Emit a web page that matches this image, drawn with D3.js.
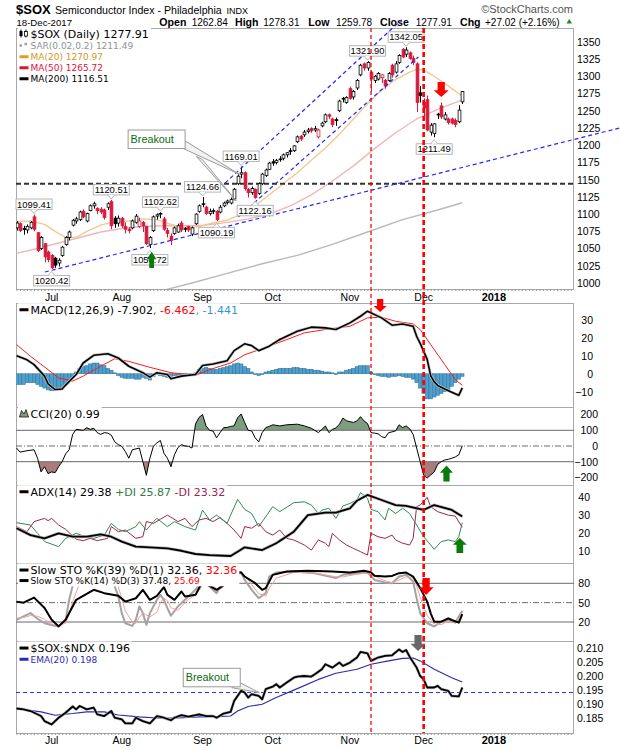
<!DOCTYPE html>
<html>
<head>
<meta charset="utf-8">
<script src="https://cdn.jsdelivr.net/npm/d3@7"></script>
<style>
  body { margin: 0; background: #fff; }
  text { font-family: "Liberation Sans", Arial, sans-serif; }
  .lg { font-family: "DejaVu Sans", Verdana, sans-serif; }
</style>
</head>
<body>
<svg id="chart" width="620" height="750"></svg>
<script>
// ---- data (index = trading day from 19-Jun-2017) ----
const opens  = [1080,1086,1079,1077,1080,1096,1073,1050,1057,1045,1040,1036,1029,1040,1056,1066,1084,1090,1092,1104,1090,1105,1112,1108,1107,1106,1110,1118,1094,1087,1094,1082,1078,1080,1088,1082,1088,1082,1056,1076,1097,1100,1093,1076,1068,1072,1074,1087,1078,1082,1071,1086,1104,1115,1110,1101,1104,1104,1103,1112,1117,1116,1122,1144,1158,1160,1136,1131,1136,1130,1144,1156,1165,1176,1175,1179,1181,1186,1192,1192,1205,1213,1215,1220,1224,1222,1212,1228,1234,1244,1238,1237,1250,1268,1262,1282,1270,1283,1302,1318,1312,1306,1294,1296,1298,1294,1294,1316,1306,1320,1339,1332,1334,1326,1318,1276,1262,1266,1219,1217,1244,1257,1238,1238,1238,1236,1234,1262.84];
const highs  = [1090,1088,1083,1085,1090,1099.41,1074,1068,1058,1047,1042,1038,1036,1054,1068,1076,1093,1096,1105,1107,1102,1114,1118,1110,1110,1108,1117,1120.51,1097,1098,1096,1088,1081,1092,1100,1095,1090,1083,1068,1098,1101,1102.62,1096,1080,1072,1082,1086,1090,1081,1083,1082,1101,1114,1124.66,1112,1108,1108,1106,1113,1118,1121,1124,1138,1158,1169.01,1162,1138,1140,1137,1146,1160,1166,1176,1180,1180,1184,1188,1190,1196,1200,1214,1215,1222,1225,1226,1228,1224,1234,1246,1246,1240,1240,1266,1270,1271,1285,1280,1296,1318,1320,1321.90,1308,1302,1306,1303,1296,1306,1318,1322,1332,1341,1342.05,1336,1330,1320,1286,1268,1272,1232,1232,1247,1262,1248,1240,1240,1239,1258,1278.31];
const lows   = [1076,1074,1070,1072,1078,1075,1045,1048,1030,1030,1020.42,1022,1024,1038,1054,1062,1082,1086,1090,1094,1088,1104,1108,1100,1100,1092,1106,1078,1080,1082,1080,1072,1072,1078,1086,1080,1074,1055,1050.72,1074,1092,1094,1076,1066,1055,1070,1073,1074,1074,1074,1068,1084,1102,1110,1099,1098,1100,1090.19,1101,1110,1114,1114,1120,1142,1152,1134,1124,1128,1122.16,1128,1142,1154,1164,1170,1172,1176,1178,1182,1186,1190,1203,1206,1212,1217,1218,1219,1210,1226,1232,1238,1226,1228,1248,1262,1260,1266,1266,1280,1300,1308,1308,1278,1290,1294,1290,1282,1292,1298,1304,1318,1326,1328,1324,1316,1248,1262,1240,1220,1214,1211.49,1238,1238,1236,1230,1230,1226,1232,1259.78];
const closes = [1087,1076,1078,1082,1088,1078,1047,1066,1038,1034,1022,1026,1033,1052,1066,1074,1091,1093,1103,1096,1101,1112,1115,1105,1103,1095,1115,1083,1086,1094,1083,1078,1076,1090,1097,1090,1083,1057,1066,1096,1099,1101,1078,1072,1062,1080,1083,1077,1079,1077,1080,1100,1112,1114,1101,1104,1105,1092,1110,1116,1119,1121,1136,1155,1160,1137,1131,1137,1124,1144,1158,1164,1174,1174,1178,1180,1186,1189,1191,1199,1212,1209,1219,1222,1221,1224,1222,1232,1244,1242,1230,1236,1264,1267,1269,1268,1278,1294,1316,1312,1320,1296,1300,1304,1302,1286,1304,1302,1318,1330,1328,1338,1326,1320,1262,1272,1254,1222,1229,1231,1245,1241,1244,1233,1232,1230,1250.89,1277.91];

const ma20  = [[0,1089],[4,1090],[8,1085],[11,1075],[14,1066],[17,1066],[20,1075],[24,1084],[28,1089],[32,1090],[36,1093],[40,1092],[44,1085],[48,1080],[52,1082],[56,1087],[60,1091],[64,1100],[68,1112],[72,1128],[76,1144],[80,1160],[84,1178],[88,1196],[92,1216],[96,1238],[100,1260],[104,1280],[108,1295],[112,1306],[114,1310],[116,1309],[119,1300],[123,1286],[127,1270.97]];
const ma50  = [[0,1043],[6,1050],[12,1058],[18,1066],[24,1074],[30,1079],[36,1082],[42,1083],[48,1083],[54,1084],[60,1088],[66,1093],[72,1100],[78,1112],[84,1128],[90,1148],[96,1170],[102,1195],[108,1218],[114,1238],[120,1252],[127,1265.72]];
const ma200 = [[40,987],[50,1000],[60,1014],[70,1028],[80,1040],[90,1056],[100,1074],[110,1092],[120,1106],[127,1116.51]];
const trendLines = [[[8.1,1016],[171.9,1225]], [[59.4,1145],[109.7,1382]], [[63.2,1096],[114.5,1328]]];
const supportLevel = 1144;
const priceNotes = [[5,1099.41,"high"],[27,1120.51,"high"],[41,1102.62,"high"],[53,1124.66,"high"],[64,1169.01,"high"],[100,1321.90,"high"],[111,1342.05,"high"],[10,1020.42,"low"],[38,1050.72,"low"],[57,1090.19,"low"],[68,1122.16,"low"],[119,1211.49,"low"]];

const macdLine = [[0,10.1],[3,7.8],[5,5.1],[8,-1.3],[9,-5.6],[11,-8.8],[13,-8.5],[14,-6.3],[17,-0.4],[19,6],[22,10.3],[26,11.2],[29,8.8],[32,4.2],[36,0.6],[38,-1.9],[40,0.6],[43,-0.4],[44,-2.8],[47,-1.3],[51,-0.4],[53,4.6],[56,5.5],[60,7.3],[62,12.9],[65,16.7],[67,15.7],[69,12.9],[72,15.4],[75,19.1],[80,23.7],[84,26],[88,25.6],[91,24.7],[95,28.4],[98,32.1],[100,34.9],[104,31.2],[107,27.1],[110,27.8],[113,26.5],[114,20.9],[115,17],[116,12.5],[117,8],[118,-1],[119,-4.5],[120,-6.5],[122,-8.5],[124,-10.3],[126,-12],[127,-7.902]];
const macdSignal = [[0,16.3],[4,9.7],[9,2.3],[12,-2.3],[16,-4.1],[19,-1.3],[24,4.2],[28,8.4],[32,6.9],[38,3.6],[44,0.6],[51,-0.9],[55,2.3],[61,6],[65,10.6],[71,14.7],[77,19.1],[82,22.8],[88,24.7],[95,26.5],[100,31.2],[104,31.5],[108,29.3],[113,27.8],[115,24.7],[118,16.3],[122,5.1],[125,-3.2],[127,-6.462]];
const macdHist = [-6,-6,-6,-5,-5,-5,-6,-7,-8,-9,-9.5,-9.5,-9,-8,-6,-4,-2,1,3,4,4.5,5.5,6,6,5,4.5,3,2,0.5,-1,-2,-2.5,-2.5,-2.5,-3,-3,-2,-2.5,-3.5,-1.5,-0.5,-1,-1.5,-2,-1.5,-1,-1,-0.5,-1,-1,-0.5,0.5,2.5,3,3.5,3,2.5,2.5,3,3.5,4,4.5,5.5,6,5.5,4,3,1,-0.5,-1,-0.5,1,1.5,2,2.5,3,3,3,3,3.5,3.5,3,3,2.5,2.5,2,2,1.5,1,1,0.5,-0.5,1,1,2,2.5,3,4,4.5,4.5,4.5,1,-0.5,-1,-1.5,-1.5,-2,-1.5,-1.5,-1,-1.5,-2,-2,-3,-5,-8,-11,-14,-14,-13,-12,-11,-10,-9,-7,-5,-3,-1.441];

const cci = [[0,-13],[1,-39],[3,-30],[5,-24],[6,-78],[7,-165],[8,-132],[9,-176],[10,-165],[11,-170],[12,-132],[13,-100],[14,-50],[15,-24],[16,74],[17,106],[19,100],[20,117],[21,106],[22,113],[23,85],[24,74],[25,85],[26,82],[27,69],[28,26],[29,9],[30,-2],[31,-35],[32,-78],[33,-24],[35,-13],[36,-100],[37,-187],[38,-78],[39,-2],[40,20],[41,35],[42,-46],[43,-78],[44,-132],[45,-56],[46,-10],[47,9],[48,0],[49,-2],[50,-13],[51,140],[52,182],[53,200],[54,128],[55,100],[56,95],[57,52],[58,85],[59,117],[60,118],[61,125],[62,128],[63,180],[64,204],[65,150],[66,100],[67,96],[68,52],[69,26],[70,85],[71,117],[72,125],[73,135],[75,128],[77,135],[80,139],[82,128],[84,113],[86,85],[87,106],[88,128],[89,85],[90,106],[91,115],[92,139],[93,178],[94,161],[95,155],[96,150],[97,160],[98,187],[99,160],[100,143],[101,85],[102,82],[103,78],[104,60],[105,52],[106,85],[107,90],[108,96],[109,135],[110,117],[111,128],[112,110],[113,74],[114,-13],[115,-100],[116,-187],[117,-204],[118,-185],[119,-165],[120,-117],[121,-100],[122,-89],[123,-85],[124,-78],[125,-70],[126,-56],[127,0.99]];

const adx = [[0,22.8],[4,19],[8,17.2],[12,20],[16,18.1],[20,18.1],[24,19.4],[27,18.1],[30,15.4],[34,12.6],[38,12.2],[43,11.6],[47,10.3],[51,8.5],[55,7.9],[61,7.4],[63,9.8],[65,12.2],[70,10.7],[74,14.5],[79,20.9],[83,30.1],[88,31.5],[91,31.5],[95,33.9],[97,38.1],[100,41.3],[104,38.5],[108,35.7],[111,35.2],[116,33],[119,35.7],[124,33],[127,29.38]];
const plusDI = [[0,25.9],[4,24.6],[6,20],[8,15.4],[12,12.6],[14,17.2],[17,20],[19,18.5],[22,17.2],[25,19],[27,25.5],[29,22.2],[31,20.9],[34,23.7],[35,26.5],[37,21.8],[39,26.5],[40,28.3],[43,23.7],[45,26.5],[48,23.7],[51,21.8],[53,32.9],[55,27.4],[57,30.1],[60,25.5],[61,30.1],[63,38.8],[65,33.3],[67,31],[69,23.7],[71,29.2],[73,34.8],[75,32],[79,37],[82,37.5],[84,35.7],[86,31],[87,32.9],[89,33.9],[91,28.3],[93,35.2],[95,36.6],[97,38.5],[98,42.6],[100,39.4],[101,33.3],[103,32],[105,27.4],[106,33.9],[108,31],[110,33.9],[112,31],[114,24.6],[116,18.1],[118,13.5],[119,11.1],[121,15.4],[123,16.3],[125,15.4],[126,18.1],[127,25.87]];
const minusDI = [[0,23.7],[3,20.9],[5,26.5],[8,28.3],[9,27],[10,28.3],[12,24.6],[14,22.2],[17,16.7],[19,15.9],[21,17.2],[23,15.9],[26,17.2],[27,23.7],[29,20.9],[31,21.8],[34,17.2],[36,18.1],[37,26.5],[39,25.5],[41,27.8],[43,30.1],[46,26.5],[48,28.3],[50,23.7],[52,27.4],[54,28.3],[56,26.5],[58,28.8],[60,25.5],[62,21.8],[64,17.2],[65,23.7],[67,22.8],[69,25.5],[71,20.9],[73,19],[75,21.8],[77,17.2],[79,16.3],[82,13.5],[84,10.7],[86,16.3],[88,14.5],[89,12.6],[90,20],[92,16.3],[94,13.5],[96,11.6],[98,9.8],[100,7.9],[101,20],[103,18.1],[105,17.2],[107,19],[108,16.3],[110,14.5],[112,13.5],[113,17.2],[114,34.8],[115,35.7],[117,40],[118,34.8],[120,32],[123,30.1],[125,29.6],[127,23.32]];

const stoK39 = [[0,51.6],[2,50],[5,57.8],[8,41.8],[10,23.5],[12,13.2],[14,23.5],[17,54.4],[19,60.6],[22,69.9],[25,64.7],[29,60.6],[31,51.6],[34,56.8],[36,69.9],[38,54.4],[40,60.6],[42,74],[43,62.1],[45,54.4],[47,67.3],[48,59.5],[51,62.1],[53,82.7],[55,76],[57,69.9],[60,80.2],[61,90.5],[62,96],[64,97],[65,90.5],[68,80.2],[70,69.9],[71,72.5],[73,93.1],[77,98.3],[83,99.3],[90,98.3],[95,96.7],[99,99.3],[101,97],[102,91.6],[105,90.5],[107,91.5],[109,95.7],[111,96.7],[113,90.5],[115,72.5],[117,51.6],[118,33.5],[119,20.5],[121,20.5],[123,25.7],[124,23.1],[126,19],[127,32.36]];
const stoK14 = [[0,23.5],[2,28.6],[4,33.8],[6,25],[8,18.1],[10,15.5],[12,13],[14,23.5],[15,54.4],[16,76],[18,90],[21,95],[24,88],[27,92],[28,75],[29,59.5],[30,33.8],[31,18.1],[33,13.9],[34,23.5],[35,44.2],[36,33.8],[37,15.5],[38,33.8],[40,54.4],[41,62.1],[42,54.4],[43,41.5],[44,29.7],[46,44.2],[48,54.4],[49,59.5],[51,69.9],[53,85.3],[55,75],[57,64.7],[58,75],[60,90.5],[62,97],[64,96],[65,85.3],[67,69.9],[69,56.9],[71,64.7],[72,90.5],[74,96.7],[79,98.3],[85,95.7],[91,88],[93,93.1],[97,95.7],[100,96.7],[102,85.3],[105,81.2],[107,80.2],[109,90.5],[111,93.1],[113,82.7],[114,56.9],[115,33.8],[117,18.1],[119,13],[121,20.5],[123,23.1],[125,19],[127,37.48]];
const stoD3 = [[0,26],[2,27],[4,30],[6,29],[8,24],[10,17],[12,15],[14,18],[15,32],[16,51],[18,80],[21,92],[24,90],[27,88],[28,84],[29,75],[30,56],[31,37],[33,20],[34,18],[35,27],[36,34],[37,31],[38,28],[40,35],[41,50],[42,57],[43,53],[44,42],[46,38],[48,50],[49,55],[51,62],[53,76],[55,80],[57,72],[58,70],[60,82],[62,92],[64,95],[65,92],[67,78],[69,64],[71,60],[72,72],[74,88],[79,97],[85,96],[91,90],[93,90],[97,94],[100,96],[102,91],[105,84],[107,81],[109,85],[111,90],[113,88],[114,76],[115,58],[117,30],[119,17],[121,16],[123,21],[125,21],[127,25.69]];

const ratio = [[0,0.1885],[2,0.1882],[4,0.1876],[7,0.1858],[8,0.1840],[10,0.1828],[12,0.1852],[14,0.1870],[16,0.1892],[17,0.1882],[18,0.1894],[20,0.1882],[22,0.1888],[23,0.1864],[25,0.1858],[27,0.1876],[28,0.1852],[30,0.1846],[31,0.1832],[33,0.1832],[34,0.1852],[36,0.1840],[38,0.1832],[39,0.1845],[40,0.1858],[42,0.1852],[44,0.1843],[45,0.1852],[47,0.1861],[49,0.1856],[51,0.1861],[52,0.1864],[54,0.1858],[56,0.1858],[57,0.1852],[59,0.1867],[61,0.1873],[62,0.1912],[64,0.1948],[65,0.1942],[66,0.1924],[67,0.1936],[69,0.1930],[70,0.1918],[71,0.1954],[73,0.1963],[74,0.1972],[75,0.1960],[77,0.1978],[79,0.1995],[80,0.1999],[82,0.2001],[84,0.1999],[85,0.2007],[87,0.2025],[88,0.2043],[90,0.2031],[92,0.2049],[93,0.2037],[95,0.2049],[97,0.2067],[98,0.2087],[100,0.2082],[101,0.2055],[103,0.2067],[105,0.2073],[107,0.2075],[109,0.2096],[110,0.2087],[111,0.2094],[112,0.2070],[114,0.2031],[115,0.2001],[116,0.1989],[117,0.1960],[119,0.1960],[120,0.1966],[121,0.1954],[123,0.1948],[124,0.1930],[126,0.1928],[127,0.196]];
const ratioEma = [[0,0.1885],[7,0.1873],[11,0.1861],[16,0.1867],[20,0.1873],[25,0.1873],[29,0.1862],[35,0.1855],[40,0.1851],[46,0.1851],[52,0.1855],[57,0.1856],[61,0.1858],[63,0.1876],[66,0.1892],[70,0.1900],[74,0.1924],[80,0.1956],[86,0.1989],[91,0.2011],[97,0.2025],[101,0.2043],[106,0.2055],[110,0.2064],[113,0.2065],[115,0.2055],[119,0.2025],[124,0.1995],[127,0.198]];
const ratioLevel = 0.1942;

const monthTicks = [["Jul",10],["Aug",30],["Sep",53],["Oct",73],["Nov",95],["Dec",116],["2018",136]];
const markerDays = [101, 116];
const priceTicks = d3.range(1000, 1351, 25);
const macdTicks = [-10, 0, 10, 20, 30];
const cciTicks = [-200, -100, 0, 100, 200];
const adxTicks = [10, 20, 30, 40];
const stoTicks = [20, 50, 80];
const ratioTicks = [0.185, 0.190, 0.195, 0.200, 0.205, 0.210];

// ---- layout ----
const svg = d3.select("#chart");
const LEFT = 16, RIGHT = 574;
const RED = "#d81b3c";
const x = d3.scaleLinear().domain([0, 159]).range([16.5, 574.6]);

const panels = {
  price: { top: 28,  bottom: 289, y: d3.scaleLinear().domain([1000, 1350]).range([283, 41.8]) },
  macd:  { top: 303, bottom: 407, y: d3.scaleLinear().domain([-10, 30]).range([391.7, 320]) },
  cci:   { top: 407, bottom: 485, y: d3.scaleLinear().domain([-100, 100]).range([461.7, 430.3]) },
  adx:   { top: 485, bottom: 563, y: d3.scaleLinear().domain([10, 40]).range([551.3, 497.3]) },
  sto:   { top: 563, bottom: 641, y: d3.scaleLinear().domain([20, 80]).range([622, 583.3]) },
  ratio: { top: 641, bottom: 733, y: d3.scaleLinear().domain([0.185, 0.210]).range([718.3, 648.3]) }
};

const defs = svg.append("defs");
Object.entries(panels).forEach(([k, p]) => {
  defs.append("clipPath").attr("id", "clip-" + k)
    .append("rect").attr("x", LEFT).attr("y", p.top)
    .attr("width", RIGHT - LEFT).attr("height", p.bottom - p.top);
  p.g = svg.append("g").attr("clip-path", `url(#clip-${k})`);
});

const lineFor = (p) => d3.line().x(d => x(d[0])).y(d => p.y(d[1]));

function drawLine(p, data, color, width, extra) {
  const path = p.g.append("path").datum(data)
    .attr("d", lineFor(p)).attr("fill", "none")
    .attr("stroke", color).attr("stroke-width", width)
    .attr("stroke-linejoin", "round");
  if (extra) extra(path);
  return path;
}

function hLine(p, v, dash) {
  p.g.append("line").attr("x1", LEFT).attr("x2", RIGHT)
    .attr("y1", p.y(v)).attr("y2", p.y(v))
    .attr("stroke", "#6b6b6b").attr("stroke-width", 1)
    .attr("stroke-dasharray", dash || null);
}

// ---- header ----
const head = svg.append("text").attr("y", 13.5);
head.append("tspan").attr("x", 16).style("font-weight", "bold").style("font-size", "13px").text("$SOX");
head.append("tspan").attr("x", 55).style("font-size", "10.6px").text("Semiconductor Index - Philadelphia");
head.append("tspan").attr("x", 226.5).style("font-size", "9px").text("INDX");
svg.append("text").attr("x", 573).attr("y", 12.5).attr("text-anchor", "end")
  .style("font-size", "11px").attr("fill", "#555").text("\u00A9StockCharts.com");
svg.append("text").attr("x", 16.5).attr("y", 25.7).style("font-size", "9.6px").text("18-Dec-2017");

const quote = [["Open", 159.3, "1262.84", 191.7], ["High", 235, "1278.31", 263.3], ["Low", 308.3, "1259.78", 336],
               ["Close", 380, "1277.91", 415.7], ["Chg", 460, "+27.02 (+2.16%)", 485]];
const qt = svg.append("text").attr("y", 25.7);
quote.forEach(q => {
  qt.append("tspan").attr("x", q[1]).style("font-weight", "bold").style("font-size", "10.6px").text(q[0]);
  qt.append("tspan").attr("x", q[3]).style("font-size", "10px").text(q[2]);
});
svg.append("path").attr("d", "M566.5,23.5 L572,23.5 L569.25,19 Z").attr("fill", "#1f8a1f");

// ---- frames ----
Object.values(panels).forEach(p => {
  svg.insert("rect", ":first-child").attr("x", LEFT + 0.5).attr("y", p.top + 0.5)
    .attr("width", RIGHT - LEFT - 1).attr("height", p.bottom - p.top)
    .attr("fill", "#fff").attr("stroke", "#a9a9a9");
});

// ---- price panel ----
const P = panels.price;
drawLine(P, ma200, "#b9b9b9", 1.4);
drawLine(P, ma50, "#f2b6b6", 1.4);
drawLine(P, ma20, "#f0c98f", 1.4);

P.g.append("line").attr("x1", LEFT).attr("x2", RIGHT)
  .attr("y1", P.y(supportLevel)).attr("y2", P.y(supportLevel))
  .attr("stroke", "#333").attr("stroke-width", 2).attr("stroke-dasharray", "5,3");

const candles = P.g.append("g");
closes.forEach((c, i) => {
  const o = opens[i], prev = i ? closes[i - 1] : o;
  const col = c >= prev ? "#000" : RED;
  const cx = Math.round(x(i)) + 0.5;
  candles.append("line").attr("x1", cx).attr("x2", cx)
    .attr("y1", P.y(highs[i])).attr("y2", P.y(lows[i])).attr("stroke", col).attr("stroke-width", 1);
  const top = P.y(Math.max(o, c)), bot = P.y(Math.min(o, c));
  candles.append("rect").attr("x", cx - 1.4).attr("y", top)
    .attr("width", 2.8).attr("height", Math.max(bot - top, 0.8))
    .attr("fill", c > o ? "#fff" : col).attr("stroke", col).attr("stroke-width", 0.8);
});

// trend lines (allowed to run past the frame like the original)
trendLines.forEach(t => {
  svg.append("line").attr("x1", x(t[0][0])).attr("y1", P.y(t[0][1]))
    .attr("x2", x(t[1][0])).attr("y2", P.y(t[1][1]))
    .attr("stroke", "#2525ff").attr("stroke-width", 1.2).attr("stroke-dasharray", "4,3");
});

// high / low value tags
priceNotes.forEach(([i, v, side]) => {
  const cx = x(i), w = 36, h = 10.5;
  const y0 = side === "high" ? P.y(v) - 5 - h : P.y(v) + 6.5;
  const g = svg.append("g");
  g.append("rect").attr("x", cx - w / 2).attr("y", y0).attr("width", w).attr("height", h)
    .attr("fill", "#fff").attr("stroke", "#b5b5b5");
  const edge = side === "high" ? y0 + h : y0;
  const tip = side === "high" ? edge + 4 : edge - 4;
  g.append("path").attr("d", `M${cx - 3.5},${edge} L${cx},${tip} L${cx + 3.5},${edge}`)
    .attr("fill", "#fff").attr("stroke", "#b5b5b5");
  g.append("text").attr("x", cx).attr("y", y0 + 8.6).attr("text-anchor", "middle")
    .style("font-size", "9.4px").text(v.toFixed(2));
});

// ---- MACD ----
const M = panels.macd;
M.g.selectAll(".bar").data(macdHist).join("rect")
  .attr("x", (d, i) => x(i) - 1.75).attr("width", 3.5)
  .attr("y", d => Math.min(M.y(d), M.y(0))).attr("height", d => Math.abs(M.y(d) - M.y(0)))
  .attr("fill", "#4f9fcc").attr("stroke", "#2a6e98").attr("stroke-width", 0.5);
drawLine(M, macdSignal, "#ff1a1a", 1);
drawLine(M, macdLine, "#c8c8c8", 3);
drawLine(M, macdLine, "#000", 1.6);

// ---- CCI ----
const C = panels.cci;
defs.append("clipPath").attr("id", "cci-up").append("rect")
  .attr("x", LEFT).attr("y", C.top).attr("width", RIGHT - LEFT).attr("height", C.y(100) - C.top);
defs.append("clipPath").attr("id", "cci-dn").append("rect")
  .attr("x", LEFT).attr("y", C.y(-100)).attr("width", RIGHT - LEFT).attr("height", C.bottom - C.y(-100));
C.g.append("path").datum(cci).attr("clip-path", "url(#cci-up)")
  .attr("d", d3.area().x(d => x(d[0])).y0(C.y(100)).y1(d => C.y(d[1])))
  .attr("fill", "#7e9c7e");
C.g.append("path").datum(cci).attr("clip-path", "url(#cci-dn)")
  .attr("d", d3.area().x(d => x(d[0])).y0(C.y(-100)).y1(d => C.y(d[1])))
  .attr("fill", "#a97b7b");
hLine(C, 100); hLine(C, -100); hLine(C, 0, "6,2,1,2");
drawLine(C, cci, "#000", 1);

// ---- ADX ----
const A = panels.adx;
drawLine(A, minusDI, "#a3234f", 1);
drawLine(A, plusDI, "#2f8a57", 1);
drawLine(A, adx, "#bdbdbd", 3.2);
drawLine(A, adx, "#000", 1.8);

// ---- Stochastics ----
const S = panels.sto;
hLine(S, 80); hLine(S, 20); hLine(S, 50, "6,2,1,2");
drawLine(S, stoK14, "#a3a3a3", 2);
drawLine(S, stoD3, "#f2a0a0", 1);
drawLine(S, stoK39, "#ff3333", 1);
drawLine(S, stoK39, "#000", 2);

// ---- ratio ----
const R = panels.ratio;
R.g.append("line").attr("x1", LEFT).attr("x2", RIGHT)
  .attr("y1", R.y(ratioLevel)).attr("y2", R.y(ratioLevel))
  .attr("stroke", "#2233ee").attr("stroke-width", 1).attr("stroke-dasharray", "4,3");
drawLine(R, ratioEma, "#2a2ab0", 1.1);
drawLine(R, ratio, "#bdbdbd", 3);
drawLine(R, ratio, "#000", 1.8);

// ---- right axes ----
function rightAxis(p, ticks, fmt, xPos, anchor) {
  const g = svg.append("g").attr("transform", `translate(${xPos},0)`)
    .call(d3.axisRight(p.y).tickValues(ticks).tickSize(0).tickPadding(0).tickFormat(fmt));
  g.select(".domain").remove();
  g.selectAll("text").attr("text-anchor", anchor).attr("x", 0)
    .style("font-family", '"Liberation Sans", Arial, sans-serif').style("font-size", "10.5px").attr("fill", "#000");
}
rightAxis(P, priceTicks, d3.format("d"), 577, "start");
rightAxis(M, macdTicks, d3.format("d"), 593, "end");
rightAxis(C, cciTicks, d3.format("d"), 598, "end");
rightAxis(A, adxTicks, d3.format("d"), 590, "end");
rightAxis(S, stoTicks, d3.format("d"), 590, "end");
rightAxis(R, ratioTicks, d3.format(".3f"), 577, "start");

// ---- month labels & day ticks ----
[[P.bottom, 300.5], [R.bottom, 744]].forEach(([edge, base]) => {
  const ax = svg.append("g").attr("transform", `translate(0,${edge})`)
    .call(d3.axisBottom(x).tickValues(d3.range(0, 159)).tickSize(2).tickFormat(""));
  ax.select(".domain").remove();
  ax.selectAll("line").attr("stroke", "#999");
  svg.append("g").selectAll("text").data(monthTicks).join("text")
    .attr("x", d => x(d[1])).attr("y", base).attr("text-anchor", "middle")
    .style("font-size", d => d[0] === "2018" ? "11px" : "10.5px")
    .style("font-weight", d => d[0] === "2018" ? "bold" : null)
    .text(d => d[0]);
});

// ---- legends (white boxes hide the lines behind, as in the original) ----
function legend(lines) {
  const g = svg.append("g");
  const txt = g.append("g");
  lines.forEach(l => {
    const t = txt.append("text").attr("class", "lg").attr("x", 30.5).attr("y", l.y)
      .style("font-size", l.size + "px");
    l.parts.forEach(pt => t.append("tspan").attr("fill", pt[1]).text(pt[0]));
  });
  const bb = txt.node().getBBox();
  g.insert("rect", ":first-child").attr("x", 18).attr("y", bb.y - 0.5)
    .attr("width", bb.x + bb.width - 16).attr("height", bb.height + 1).attr("fill", "#fff");
  lines.forEach(l => {
    const my = l.y - l.size * 0.36;
    if (l.sw === "sar") {
      g.append("rect").attr("x", 19.5).attr("y", my - 1.5).attr("width", 2.5).attr("height", 2.5).attr("fill", "#9aa3a9");
      g.append("rect").attr("x", 24.5).attr("y", my - 3).attr("width", 2.5).attr("height", 2.5).attr("fill", "#9aa3a9");
    } else if (l.sw === "candle") {
      g.append("line").attr("x1", 21).attr("x2", 21).attr("y1", my - 4.5).attr("y2", my + 3.5).attr("stroke", "#000");
      g.append("rect").attr("x", 19.5).attr("y", my - 3).attr("width", 3).attr("height", 5).attr("fill", "#000");
      g.append("line").attr("x1", 26).attr("x2", 26).attr("y1", my - 4.5).attr("y2", my + 3.5).attr("stroke", "#000");
      g.append("rect").attr("x", 24.5).attr("y", my - 2.5).attr("width", 3).attr("height", 4.5).attr("fill", "#fff").attr("stroke", "#000").attr("stroke-width", 0.8);
    } else if (l.sw === "cci") {
      g.append("path").attr("d", `M19.5,${my + 3.5} L21.5,${my - 3} L24,${my + 0.5} L26,${my - 4} L28.5,${my + 3.5} Z`)
        .attr("fill", "#7e9c7e").attr("stroke", "#000").attr("stroke-width", 0.7);
    } else {
      g.append("line").attr("x1", 19.5).attr("x2", 28.5).attr("y1", my).attr("y2", my)
        .attr("stroke", l.sw).attr("stroke-width", 3);
    }
  });
}
legend([
  { y: 38, size: 11, sw: "candle", parts: [["$SOX (Daily) 1277.91", "#000"]] },
  { y: 49, size: 9, sw: "sar", parts: [["SAR(0.02,0.2) 1211.49", "#8a949b"]] },
  { y: 60, size: 9, sw: "#daa020", parts: [["MA(20) 1270.97", "#d49a1a"]] },
  { y: 71, size: 9, sw: "#dc143c", parts: [["MA(50) 1265.72", "#dc143c"]] },
  { y: 82, size: 9, sw: "#000", parts: [["MA(200) 1116.51", "#000"]] }
]);
legend([{ y: 313.7, size: 11, sw: "#000", parts: [["MACD(12,26,9) -7.902", "#000"], [", -6.462", "#ff0000"], [", -1.441", "#3399cc"]] }]);
legend([{ y: 417.5, size: 11, sw: "cci", parts: [["CCI(20) 0.99", "#000"]] }]);
legend([{ y: 495.7, size: 11, sw: "#000", parts: [["ADX(14) 29.38", "#000"], [" +DI 25.87", "#2f7d3f"], [" -DI 23.32", "#a3234f"]] }]);
legend([
  { y: 574, size: 11, sw: "#000", parts: [["Slow STO %K(39) %D(1) 32.36, ", "#000"], ["32.36", "#ff0000"]] },
  { y: 583.8, size: 9, sw: "#000", parts: [["Slow STO %K(14) %D(3) 37.48, ", "#000"], ["25.69", "#ff0000"]] }
]);
legend([
  { y: 652, size: 11, sw: "#000", parts: [["$SOX:$NDX 0.196", "#000"]] },
  { y: 662.5, size: 9, sw: "#2a2ab0", parts: [["EMA(20) 0.198", "#2a2ab0"]] }
]);

// ---- callouts ----
function callout(bx, by, wedges, tx) {
  const g = svg.append("g");
  wedges.forEach(w => g.append("path").attr("d", "M" + w.map(p => p.join(",")).join(" L") + " Z")
    .attr("fill", "#f2f2f2").attr("stroke", "#9a9a9a").attr("stroke-width", 1));
  g.append("rect").attr("x", bx).attr("y", by).attr("width", 57).attr("height", 18.5)
    .attr("fill", "#fff").attr("stroke", "#9a9a9a");
  g.append("text").attr("x", bx + 2.5).attr("y", by + 13).attr("fill", "#0a6b0a")
    .style("font-size", "10.8px").text("Breakout");
}
callout(x(31.8), P.y(1222), [
  [[x(46.7), P.y(1197)], [x(48.1), P.y(1206)], [x(63.4), P.y(1158)]],
  [[x(51.2), P.y(1184)], [x(53), P.y(1179)], [x(62.6), P.y(1119)]]
]);
callout(x(47.5), R.y(0.20286), [
  [[x(61.3), R.y(0.19594)], [x(63.8), R.y(0.19763)], [x(69.2), R.y(0.19416)]]
]);

// ---- event markers ----
markerDays.forEach((d, k) => {
  svg.append("line").attr("x1", x(d)).attr("x2", x(d)).attr("y1", P.top).attr("y2", R.bottom)
    .attr("stroke", "#ff0000").attr("stroke-width", k ? 2.6 : 1.3)
    .attr("stroke-dasharray", k ? "5,3" : "4,3");
});

// ---- block arrows ----
const arrows = [
  { p: P, i: 121, v: 1270, dir: "down", color: "#ff0000", w: 15, h: 15 },
  { p: P, i: 38.5, v: 1045, dir: "up", color: "#0a7a0a", w: 10, h: 16 },
  { p: M, i: 103.6, v: 34.5, dir: "down", color: "#ff0000", w: 13, h: 13 },
  { p: C, i: 122.5, v: -124, dir: "up", color: "#0a7a0a", w: 13, h: 16 },
  { p: A, i: 126.3, v: 17.4, dir: "up", color: "#0a7a0a", w: 14, h: 15 },
  { p: S, i: 116.7, v: 61.9, dir: "down", color: "#ff0000", w: 15, h: 17 },
  { p: R, i: 114.4, v: 0.20904, dir: "down", color: "#676767", w: 15, h: 16 }
];
arrows.forEach(a => {
  const cx = x(a.i), ty = a.p.y(a.v), s = a.dir === "down" ? -1 : 1;
  const sw = a.w * 0.48, hh = a.h * 0.45;
  const pts = [[cx, ty], [cx + a.w / 2, ty + s * hh], [cx + sw / 2, ty + s * hh], [cx + sw / 2, ty + s * a.h],
               [cx - sw / 2, ty + s * a.h], [cx - sw / 2, ty + s * hh], [cx - a.w / 2, ty + s * hh]];
  svg.append("path").attr("d", "M" + pts.map(p => p.join(",")).join(" L") + " Z").attr("fill", a.color);
});
</script>
</body>
</html>
